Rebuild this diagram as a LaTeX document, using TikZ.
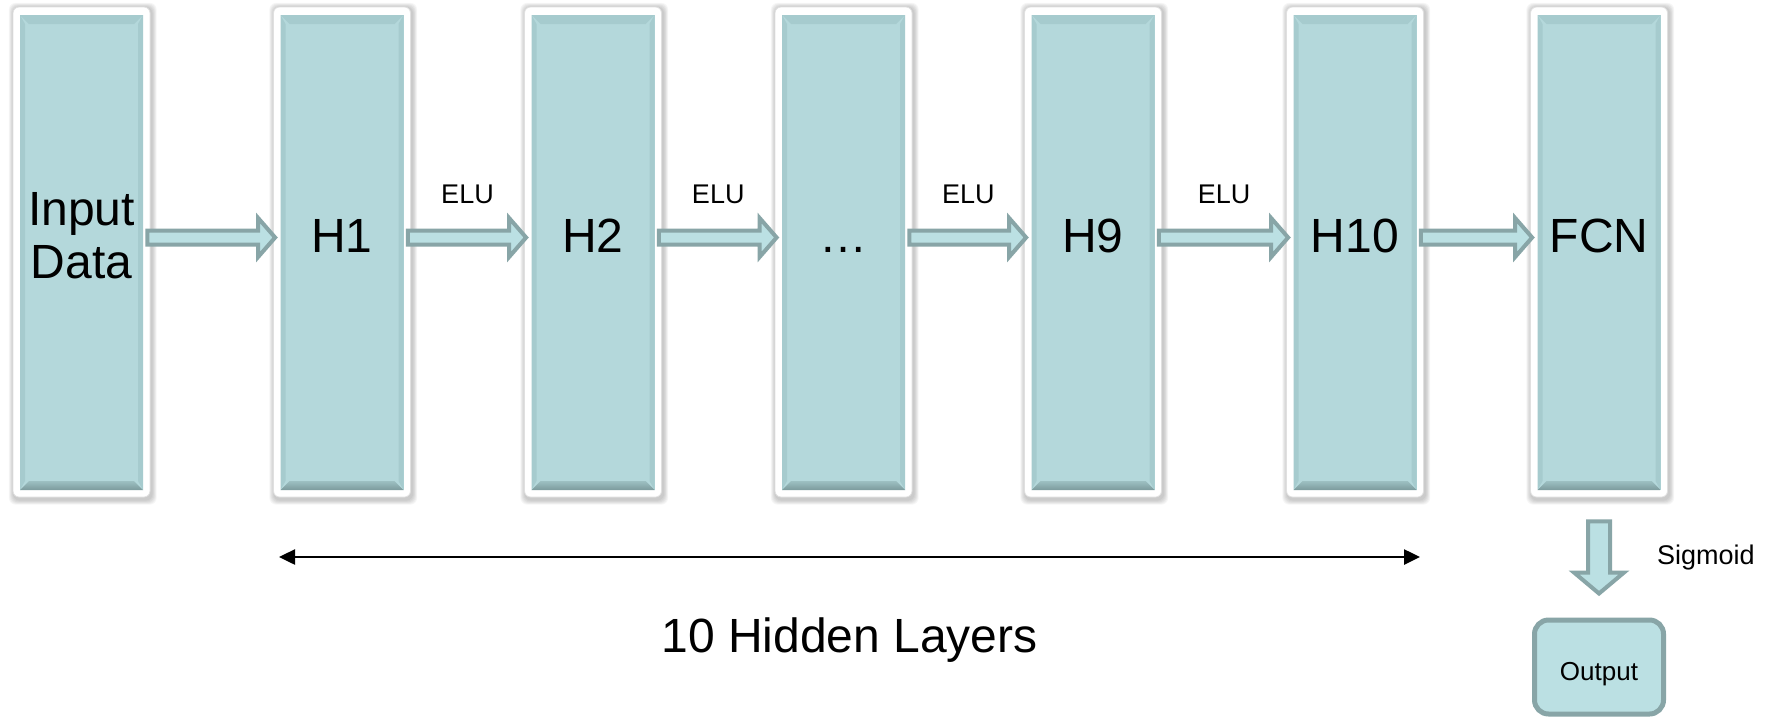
\documentclass[tikz,border=0pt]{standalone}
\usepackage{fontspec}
\setmainfont{Liberation Sans}
\usetikzlibrary{calc,arrows.meta,backgrounds}

\definecolor{boxteal}{HTML}{B4D8DB}
\definecolor{bevtop}{HTML}{C6ECEF}
\definecolor{bevside}{HTML}{A6CBCE}
\definecolor{bevbotA}{HTML}{9DC0C2}
\definecolor{bevbotB}{HTML}{7C9B9D}
\definecolor{arrfill}{HTML}{BBE0E3}
\definecolor{arrline}{HTML}{88A5A7}

% horizontal block arrow from the right side of #1 to the left side of #2
\newcommand\blockarrowh[2]{%
  \draw[blockarrow] let \p1=($(#1.east)+(-3,-14.5)$), \p2=($(#2.west)+(2,-14.5)$) in
    (\x1,\y1+7pt) -- (\x2-17pt,\y1+7pt) -- (\x2-17pt,\y1+19.5pt) -- (\x2,\y1)
    -- (\x2-17pt,\y1-19.5pt) -- (\x2-17pt,\y1-7pt) -- (\x1,\y1-7pt) -- cycle;}

% vertical block arrow from the bottom of #1 down to the top of #2
\newcommand\blockarrowv[2]{%
  \draw[blockarrow] let \p1=($(#1.south)+(0,24)$), \p2=($(#2.north)+(0,-24)$) in
    (\x1-11pt,\y1) -- (\x1-11pt,\y2+21pt) -- (\x1-25pt,\y2+21pt) -- (\x1,\y2)
    -- (\x1+25pt,\y2+21pt) -- (\x1+11pt,\y2+21pt) -- (\x1+11pt,\y1) -- cycle;}

\begin{document}
\begin{tikzpicture}[x=1pt,y=-1pt,
  layer/.style={minimum width=137pt, minimum height=490pt, inner sep=0pt,
    fill=white, draw=black!12, line width=0.8pt, rounded corners=6pt,
    path picture={
      \coordinate (nw) at ([shift={(7,8)}]path picture bounding box.north west);
      \coordinate (se) at ([shift={(-7,-7)}]path picture bounding box.south east);
      \fill[boxteal, sharp corners] (nw) rectangle (se);
      \path[sharp corners] let \p1=(nw), \p2=(se) in
        [fill=bevtop] (\x1,\y1) -- (\x2,\y1) -- (\x2-9pt,\y1-9pt) -- (\x1+9pt,\y1-9pt) -- cycle
        [fill=bevside] (\x1,\y1) -- (\x1+5pt,\y1-9pt) -- (\x1+5pt,\y2+9pt) -- (\x1,\y2) -- cycle;
      \path[sharp corners, fill=bevside] let \p1=(nw), \p2=(se) in
        (\x2,\y1) -- (\x2-5pt,\y1-9pt) -- (\x2-5pt,\y2+9pt) -- (\x2,\y2) -- cycle;
      \shade[sharp corners, top color=bevbotA, bottom color=bevbotB] let \p1=(nw), \p2=(se) in
        (\x1,\y2) -- (\x2,\y2) -- (\x2-9pt,\y2+9pt) -- (\x1+9pt,\y2+9pt) -- cycle;
    }},
  big/.style={font=\fontsize{48}{53}\selectfont, inner sep=0pt},
  small/.style={font=\fontsize{27}{30}\selectfont, inner sep=0pt},
  blockarrow/.style={fill=arrfill, draw=arrline, line width=4pt, line join=miter},
  dimarrow/.style={{Triangle[length=16pt,width=15pt]}-{Triangle[length=16pt,width=15pt]}, line width=2.5pt},
  outbox/.style={fill=arrfill, draw=arrline, line width=5pt, rounded corners=14pt,
    minimum width=129pt, minimum height=94pt, inner sep=0pt,
    font=\fontsize{26}{29}\selectfont, text height=32pt, text depth=6pt}
]
\useasboundingbox (0,0) rectangle (1771,718);

% layer columns
\node[layer] (inp) at (81.5,252) {};
\node[layer] (h1)  at (342,252) {};
\node[layer] (h2)  at (593,252) {};
\node[layer] (hd)  at (843.5,252) {};
\node[layer] (h9)  at (1093,252) {};
\node[layer] (h10) at (1355,252) {};
\node[layer] (fcn) at (1599,252) {};

% column labels
\node[big, align=center] (tin) at ($(inp.center)+(0,-16)$) {Input\\Data};
\node[big, anchor=base] (t1)  at (h1.center)  {H1};
\node[big, anchor=base] (t2)  at (h2.center)  {H2};
\node[big, anchor=base] (td)  at (hd.center)  {…};
\node[big, anchor=base] (t9)  at (h9.center)  {H9};
\node[big, anchor=base] (t10) at (h10.center) {H10};
\node[big, anchor=base] (tf)  at (fcn.center) {FCN};

% connections between the columns
\blockarrowh{inp}{h1}
\blockarrowh{h1}{h2}
\blockarrowh{h2}{hd}
\blockarrowh{hd}{h9}
\blockarrowh{h9}{h10}
\blockarrowh{h10}{fcn}

\node[small, anchor=base] (e1) at ($(h1.east)!.5!(h2.west)+(0,-49)$) {ELU};
\node[small, anchor=base] (e2) at ($(h2.east)!.5!(hd.west)+(0,-49)$) {ELU};
\node[small, anchor=base] (e3) at ($(hd.east)!.5!(h9.west)+(0,-49)$) {ELU};
\node[small, anchor=base] (e4) at ($(h9.east)!.5!(h10.west)+(0,-49)$) {ELU};

% output stage
\node[outbox] (out) at (1599,667) {Output};
\blockarrowv{fcn}{out}
\node[small, anchor=base west] (sg) at (1657,564) {Sigmoid};

% span of the hidden layers
\coordinate (hl) at (279,557);
\coordinate (hr) at (1420,557);
\draw[dimarrow] (hl) -- (hr);
\node[big, anchor=base] (hid) at ($(hl)!.5!(hr)+(0,95)$) {10 Hidden Layers};

% page background and soft shadows under the columns
\begin{scope}[on background layer]
  \fill[white] (0,0) rectangle (1771,718);
  \foreach \n in {inp,h1,h2,hd,h9,h10,fcn}{
    \foreach \s in {1,...,6}{
      \fill[black, opacity=0.035, rounded corners=7pt]
        ($(\n.north west)+(1-0.8*\s,1-0.8*\s)$) rectangle ($(\n.south east)+(1.5+0.8*\s,2.5+0.8*\s)$);
    }
  }
\end{scope}
\end{tikzpicture}
\end{document}
